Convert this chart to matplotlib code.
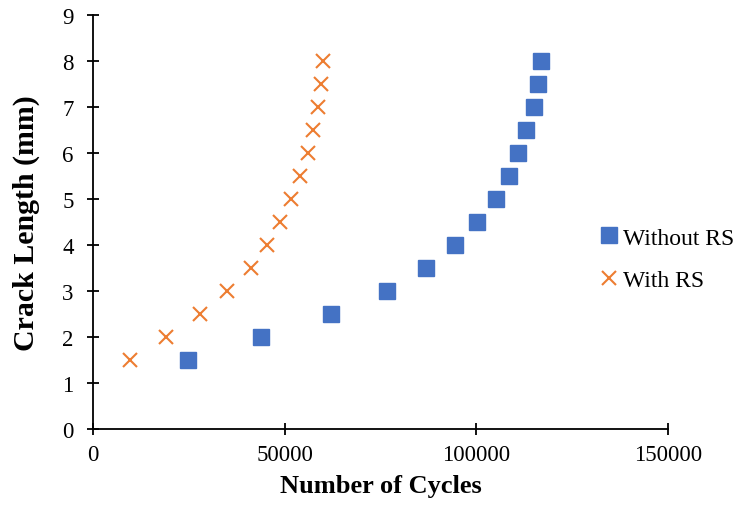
import numpy as np
import matplotlib
matplotlib.use('Agg')
from matplotlib import pyplot as plt

crack_length = [1.5, 2, 2.5, 3, 3.5, 4, 4.5, 5, 5.5, 6, 6.5, 7, 7.5, 8]

# cycles
cycles_without_rs = [24700, 43800, 62100, 76700, 86900, 94400, 100300,
                     105000, 108400, 110800, 113000, 115000, 116100, 116900]
cycles_with_rs = [9700, 19100, 27800, 34900, 41300, 45300, 48800,
                  51600, 54000, 56000, 57500, 58700, 59500, 60100]

plt.rcParams['font.family'] = ['Liberation Serif', 'DejaVu Serif']

fig = plt.figure(figsize=(7.34, 5.10), dpi=100)
ax = fig.add_axes([93/734, 1 - 430/510, (668 - 93)/734, (430 - 16)/510])

ax.plot(cycles_without_rs, crack_length, linestyle='none', marker='s',
        markersize=11, color='#4472C4', label='Without RS')
ax.plot(cycles_with_rs, crack_length, linestyle='none', marker='x',
        markersize=10, markeredgewidth=1.5, color='#ED7D31', label='With RS')

ax.set_xlim(0, 150000)
ax.set_ylim(0, 9)
ax.set_xticks([0, 50000, 100000, 150000])
ax.set_yticks(range(0, 10))
ax.spines['top'].set_visible(False)
ax.spines['right'].set_visible(False)
for s in ['left', 'bottom']:
    ax.spines[s].set_linewidth(1.3)
ax.tick_params(direction='inout', length=8, width=1.3, labelsize=16.5)
ax.tick_params(axis='y', pad=10)
ax.tick_params(axis='x', pad=7)

ax.set_xlabel('Number of Cycles', fontsize=19, fontweight='bold', labelpad=6)
ax.set_ylabel('Crack Length (mm)', fontsize=21.5, fontweight='bold', labelpad=16)

fig.legend(loc='center left', bbox_to_anchor=(0.813, 0.490), frameon=False,
           fontsize=17, handletextpad=0.1, handlelength=1.0, labelspacing=0.88,
           borderaxespad=0, borderpad=0)

plt.savefig('out.png', dpi=100)
